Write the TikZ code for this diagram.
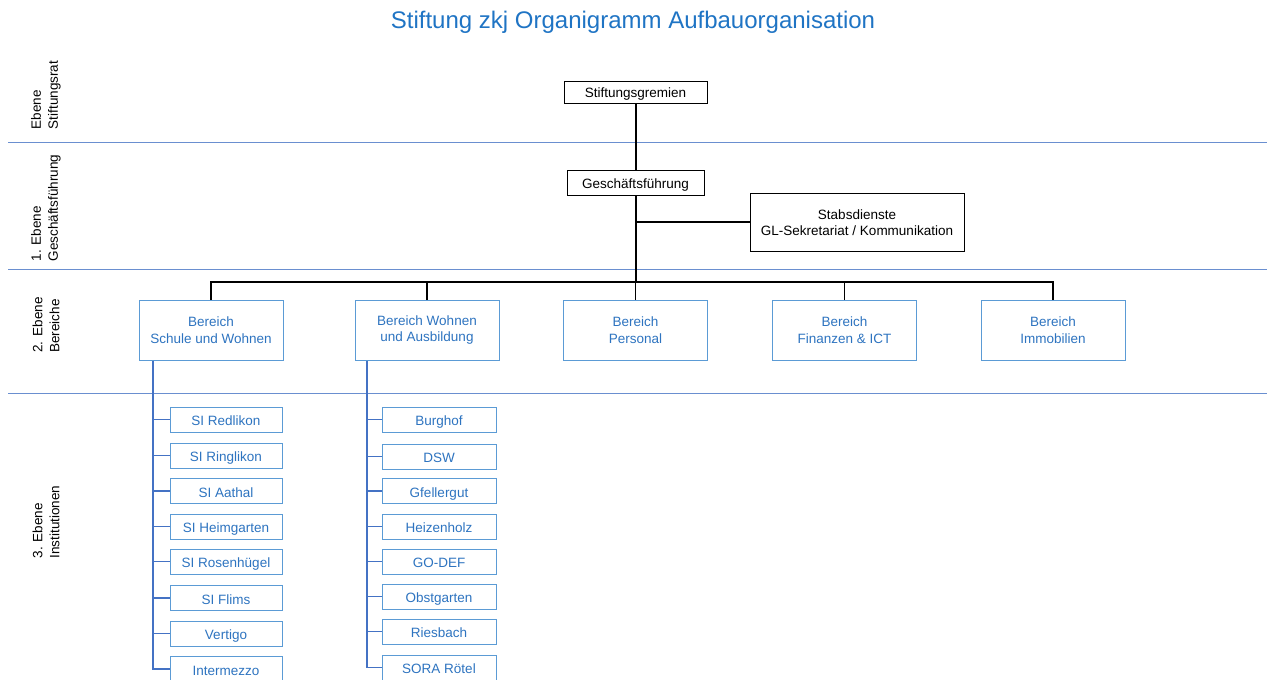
\documentclass[tikz,border=0pt]{standalone}
\usepackage{fontspec}
\setmainfont{Liberation Sans}
\definecolor{titleblue}{HTML}{1F74C4}
\definecolor{boxblue}{HTML}{5B9BD5}
\definecolor{txtblue}{HTML}{2E74C0}
\definecolor{sepblue}{HTML}{6A8FD0}
\definecolor{treeblue}{HTML}{4472C4}
\begin{document}
\begin{tikzpicture}[x=1pt,y=-1pt,
  blackbox/.style={draw=black,line width=0.8pt,fill=white,font=\fontsize{13.5}{16}\selectfont,inner sep=0pt,text height=14.5pt,text depth=3pt},
  multibox/.style={draw=black,line width=0.8pt,fill=white,align=center,font=\fontsize{13.5}{16.5}\selectfont,inner sep=0pt},
  bereich/.style={draw=boxblue,line width=1pt,fill=white,align=center,text=txtblue,font=\fontsize{13.5}{16.5}\selectfont,minimum width=144pt,minimum height=60pt,inner sep=0pt},
  inst/.style={draw=boxblue,line width=1pt,fill=white,text=txtblue,font=\fontsize{13.5}{16}\selectfont,minimum height=25pt,inner sep=0pt,text height=15pt,text depth=3pt},
  sep/.style={draw=sepblue,line width=0.8pt},
  lvl/.style={rotate=90,align=left,font=\fontsize{13.5}{17}\selectfont,anchor=center},
  conn/.style={draw=black,line width=1.2pt},
  tree/.style={draw=treeblue,line width=1.8pt}]
\useasboundingbox (0,0) rectangle (1267,680);
\node[text=titleblue,font=\fontsize{24}{28}\selectfont] (title) at (633,22) {Stiftung zkj Organigramm Aufbauorganisation};
% separators
\draw[sep] (8,142) -- (1267,142);
\draw[sep] (8,269) -- (1267,269);
\draw[sep] (8,393) -- (1267,393);
% level labels
\node[lvl] (l0) at (46,95) {Ebene\\Stiftungsrat};
\node[lvl] (l1) at (46,208) {1. Ebene\\Geschäftsführung};
\node[lvl] (l2) at (46,325) {2. Ebene\\Bereiche};
\node[lvl] (l3) at (46,522) {3. Ebene\\Institutionen};
% top boxes
\node[blackbox,minimum width=143pt,minimum height=22pt] (sg) at (635.5,92) {Stiftungsgremien};
\node[blackbox,minimum width=137pt,minimum height=25pt] (gf) at (635.5,182.5) {Geschäftsführung};
\node[multibox,minimum width=214pt,minimum height=58pt] (sd) at (857,222.5) {Stabsdienste\\GL-Sekretariat / Kommunikation};
% Bereiche
\node[bereich] (b1) at (211,330) {Bereich\\Schule und Wohnen};
\node[bereich] (b2) at (427,330) {Bereich Wohnen\\und Ausbildung};
\node[bereich] (b3) at (635.5,330) {Bereich\\Personal};
\node[bereich] (b4) at (844.5,330) {Bereich\\Finanzen \& ICT};
\node[bereich] (b5) at (1053,330) {Bereich\\Immobilien};
% connectors top
\coordinate (bus) at (636,282);
\coordinate (sdj) at (636,222);
\draw[conn] (sg.south -| bus) -- (gf.north -| bus);
\draw[conn] (gf.south -| bus) -- (bus);
\draw[conn] (sdj) -- (sd.west |- sdj);
\draw[conn] (b1.north) -- (b1.north |- bus) -- (b5.north |- bus) -- (b5.north);
\draw[conn] (b2.north |- bus) -- (b2.north);
\draw[conn] (b3.north |- bus) -- (b3.north);
\draw[conn] (b4.north |- bus) -- (b4.north);
% Institutionen
\foreach \n/\y/\t in {a1/419.5/SI Redlikon, a2/455.5/SI Ringlikon, a3/491/SI Aathal, a4/526.5/SI Heimgarten, a5/561.5/SI Rosenhügel, a6/598/SI Flims, a7/633.5/Vertigo, a8/669/Intermezzo}{
  \node[inst,minimum width=112pt] (\n) at (226,\y) {\t};
}
\foreach \n/\y/\t in {c1/419.5/Burghof, c2/456.5/DSW, c3/491/Gfellergut, c4/526.5/Heizenholz, c5/561.5/GO-DEF, c6/596.5/Obstgarten, c7/631.5/Riesbach, c8/667.5/SORA Rötel}{
  \node[inst,minimum width=114pt] (\n) at (439,\y) {\t};
}
\coordinate (t1) at (153,0);
\coordinate (t2) at (367,0);
\draw[tree] (b1.south -| t1) -- (a8.west -| t1) -- (a8.west);
\foreach \n in {a1,a2,a3,a4,a5,a6,a7}{\draw[tree] (\n.west -| t1) -- (\n.west);}
\draw[tree] (b2.south -| t2) -- (c8.west -| t2) -- (c8.west);
\foreach \n in {c1,c2,c3,c4,c5,c6,c7}{\draw[tree] (\n.west -| t2) -- (\n.west);}
\end{tikzpicture}
\end{document}
